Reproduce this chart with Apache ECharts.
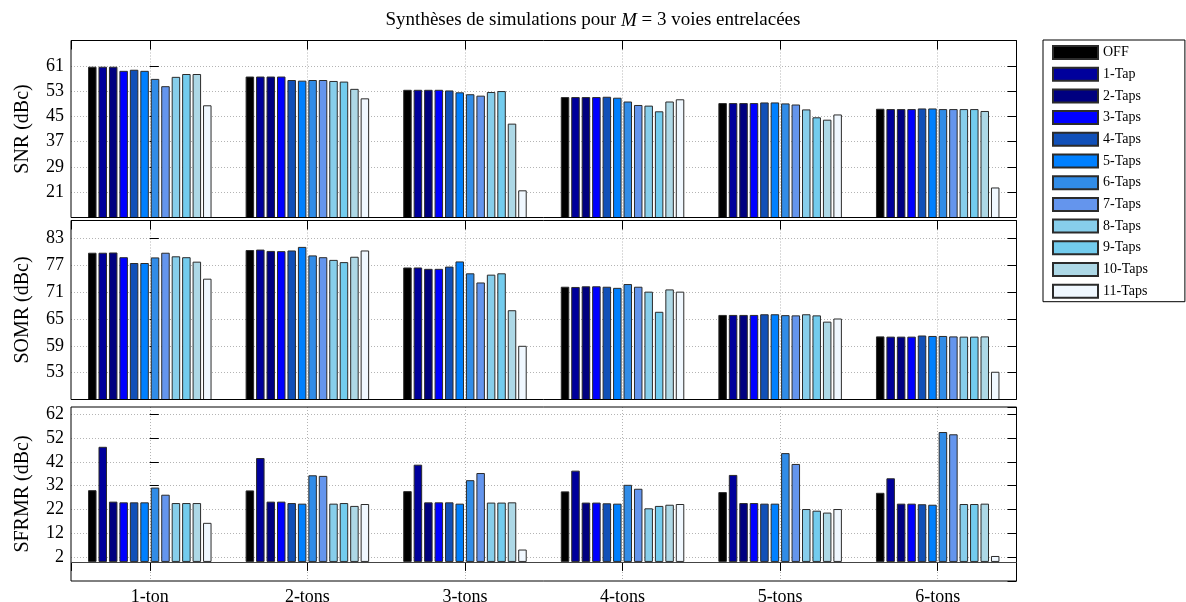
<!DOCTYPE html>
<html>
<head>
<meta charset="utf-8">
<title>Synthèses de simulations</title>
<script src="https://cdn.jsdelivr.net/npm/echarts@6/dist/echarts.min.js"></script>
<style>
    html, body { margin: 0; padding: 0; background: #fff; }
    #graphe { width: 1186px; height: 602px; }
</style>
</head>
<body>
<div id="graphe"></div>
<script>
// Catégories (nombre de tons) et configurations d'égaliseur
const categories = ['1-ton', '2-tons', '3-tons', '4-tons', '5-tons', '6-tons'];
const taps = ['OFF', '1-Tap', '2-Taps', '3-Taps', '4-Taps', '5-Taps', '6-Taps', '7-Taps', '8-Taps', '9-Taps', '10-Taps', '11-Taps'];
const couleurs = ['#000000', '#00009c', '#000080', '#0000ff', '#1150b8', '#0080ff', '#318ce7', '#6495ed', '#87ceeb', '#73ccee', '#add8e6', '#f0f8ff'];

// Une ligne par catégorie, une valeur par configuration (OFF .. 11-Taps)
const snr = [
    [60.7, 60.7, 60.7, 59.4, 59.75, 59.4, 56.85, 54.55, 57.5, 58.4, 58.4, 48.5],
    [57.6, 57.6, 57.6, 57.6, 56.5, 56.3, 56.5, 56.5, 56.2, 56.0, 53.7, 50.7],
    [53.4, 53.4, 53.4, 53.4, 53.2, 52.6, 52.0, 51.55, 52.7, 53.0, 42.7, 21.6],
    [51.1, 51.1, 51.1, 51.1, 51.2, 50.9, 49.7, 48.6, 48.4, 46.6, 49.7, 50.4],
    [49.2, 49.2, 49.2, 49.2, 49.4, 49.4, 49.1, 48.75, 47.2, 44.7, 43.95, 45.6],
    [47.4, 47.3, 47.3, 47.3, 47.5, 47.5, 47.3, 47.3, 47.3, 47.3, 46.7, 22.5]
];
const somr = [
    [79.8, 79.8, 79.85, 78.8, 77.5, 77.5, 78.75, 79.8, 79.0, 78.8, 77.8, 74.0],
    [80.4, 80.5, 80.2, 80.15, 80.3, 81.1, 79.2, 78.8, 78.2, 77.7, 78.9, 80.3],
    [76.5, 76.5, 76.2, 76.2, 76.7, 77.85, 75.2, 73.15, 74.9, 75.2, 66.95, 59.0],
    [72.2, 72.15, 72.3, 72.3, 72.2, 71.95, 72.8, 72.2, 71.1, 66.6, 71.6, 71.1],
    [65.9, 65.9, 65.9, 65.9, 66.05, 66.05, 65.85, 65.8, 66.05, 65.8, 64.4, 65.1],
    [61.1, 61.05, 61.05, 61.05, 61.3, 61.2, 61.2, 61.1, 61.05, 61.05, 61.1, 53.2]
];
const sfrmr = [
    [30.1, 48.3, 25.3, 25.0, 25.0, 25.0, 31.2, 28.2, 24.7, 24.7, 24.7, 16.4],
    [30.0, 43.6, 25.3, 25.3, 24.7, 24.45, 36.35, 36.1, 24.45, 24.7, 23.5, 24.3],
    [29.7, 40.8, 25.0, 25.0, 25.0, 24.45, 34.3, 37.3, 24.9, 24.9, 25.0, 5.2],
    [29.6, 38.3, 24.9, 24.9, 24.6, 24.45, 32.35, 30.7, 22.5, 23.5, 24.0, 24.3],
    [29.3, 36.5, 24.7, 24.7, 24.45, 24.45, 45.65, 41.1, 22.2, 21.5, 20.7, 22.2],
    [29.0, 35.1, 24.45, 24.45, 24.2, 24.0, 54.5, 53.55, 24.3, 24.3, 24.45, 2.5]
];

// Les trois sous-graphes : nom de l'axe et échelle
const panneaux = [
    { nom: 'SNR (dBc)', donnees: snr, min: 13, max: 69, pas: 8, top: 40.5, hauteur: 177 },
    { nom: 'SOMR (dBc)', donnees: somr, min: 47, max: 87, pas: 6, top: 220.5, hauteur: 179 },
    { nom: 'SFRMR (dBc)', donnees: sfrmr, min: -8, max: 65, pas: 10, top: 407, hauteur: 174 }
];

window.onload = init;

function init() {
    diagrammeSyntheses();
}

function diagrammeSyntheses() {
    let graphe = echarts.init(document.getElementById('graphe'));
    const police = "'Liberation Serif', serif";
    const grille = { color: '#b4b4b4', type: [1, 2], width: 1 };
    const trait = { color: '#000', width: 1 };

    let grids = [], xAxes = [], yAxes = [], series = [];

    panneaux.forEach((p, i) => {
        // cadre noir dessiné au-dessus des barres et de la grille
        grids.push({
            left: 71, top: p.top, width: 945.5, height: p.hauteur, z: 3,
            outerBoundsMode: 'none',
            show: true, borderColor: '#000', borderWidth: 1, backgroundColor: 'transparent'
        });

        // axe du bas : barres et étiquettes
        xAxes.push({
            type: 'category', gridIndex: i, data: categories,
            axisLine: { show: false },
            axisTick: { inside: true, alignWithLabel: true, length: 9, lineStyle: trait },
            axisLabel: {
                show: i === 2, margin: 7, color: '#000',
                fontFamily: police, fontSize: 18
            },
            splitLine: { show: false }
        });
        // axe du haut : graduations et grille verticale au centre des groupes
        xAxes.push({
            type: 'value', gridIndex: i, position: 'top',
            min: -0.5, max: 5.5, splitNumber: 6,
            axisLine: { show: false },
            axisTick: { inside: true, length: 9, lineStyle: trait },
            axisLabel: { show: false },
            splitLine: { show: true, showMinLine: false, showMaxLine: false, lineStyle: grille }
        });

        yAxes.push({
            type: 'value', gridIndex: i, min: p.min, max: p.max, interval: p.pas,
            name: p.nom, nameLocation: 'middle', nameGap: 38,
            nameTextStyle: { fontFamily: police, fontSize: 20, color: '#000' },
            axisLine: { show: false },
            axisTick: { inside: true, length: 9, lineStyle: trait },
            axisLabel: {
                margin: 7, color: '#000', fontFamily: police, fontSize: 18,
                showMinLabel: false, showMaxLabel: false
            },
            splitLine: { show: true, showMinLine: false, showMaxLine: false, lineStyle: grille }
        });
        yAxes.push({
            type: 'value', gridIndex: i, min: p.min, max: p.max, interval: p.pas,
            position: 'right',
            axisLine: { show: false },
            axisTick: { inside: true, length: 9, lineStyle: trait },
            axisLabel: { show: false },
            splitLine: { show: false }
        });

        taps.forEach((t, k) => {
            let s = {
                name: t, type: 'bar',
                xAxisIndex: 2 * i, yAxisIndex: 2 * i,
                data: p.donnees.map(ligne => ligne[k]),
                barWidth: 8.5, barGap: '23%',
                clip: true,
                itemStyle: { color: couleurs[k], borderColor: '#2b2b2b', borderWidth: 1 }
            };
            // ligne de base à 0 dans le dernier panneau
            if (i === 2 && k === 0) {
                s.markLine = {
                    silent: true, symbol: 'none', label: { show: false },
                    lineStyle: { color: '#444', type: 'solid', width: 1.2 },
                    data: [{ yAxis: 0 }]
                };
            }
            series.push(s);
        });
    });

    let options = {
        animation: false,
        backgroundColor: '#fff',
        title: {
            text: 'Synthèses de simulations pour {i|M} = 3 voies entrelacées',
            left: 'center', top: 6,
            textStyle: {
                fontFamily: police, fontSize: 19, fontWeight: 'normal', color: '#000',
                rich: { i: { fontFamily: police, fontSize: 19, fontStyle: 'italic', color: '#000' } }
            }
        },
        legend: {
            data: taps, orient: 'vertical', left: 1043, top: 40,
            icon: 'rect', itemWidth: 45, itemHeight: 13, itemGap: 6.7,
            padding: [5, 37, 3, 9],
            backgroundColor: '#fff', borderColor: '#000', borderWidth: 1,
            textStyle: { fontFamily: police, fontSize: 14, color: '#000', lineHeight: 14 }
        },
        grid: grids,
        xAxis: xAxes,
        yAxis: yAxes,
        series: series
    };

    graphe.setOption(options);
}
</script>
</body>
</html>
